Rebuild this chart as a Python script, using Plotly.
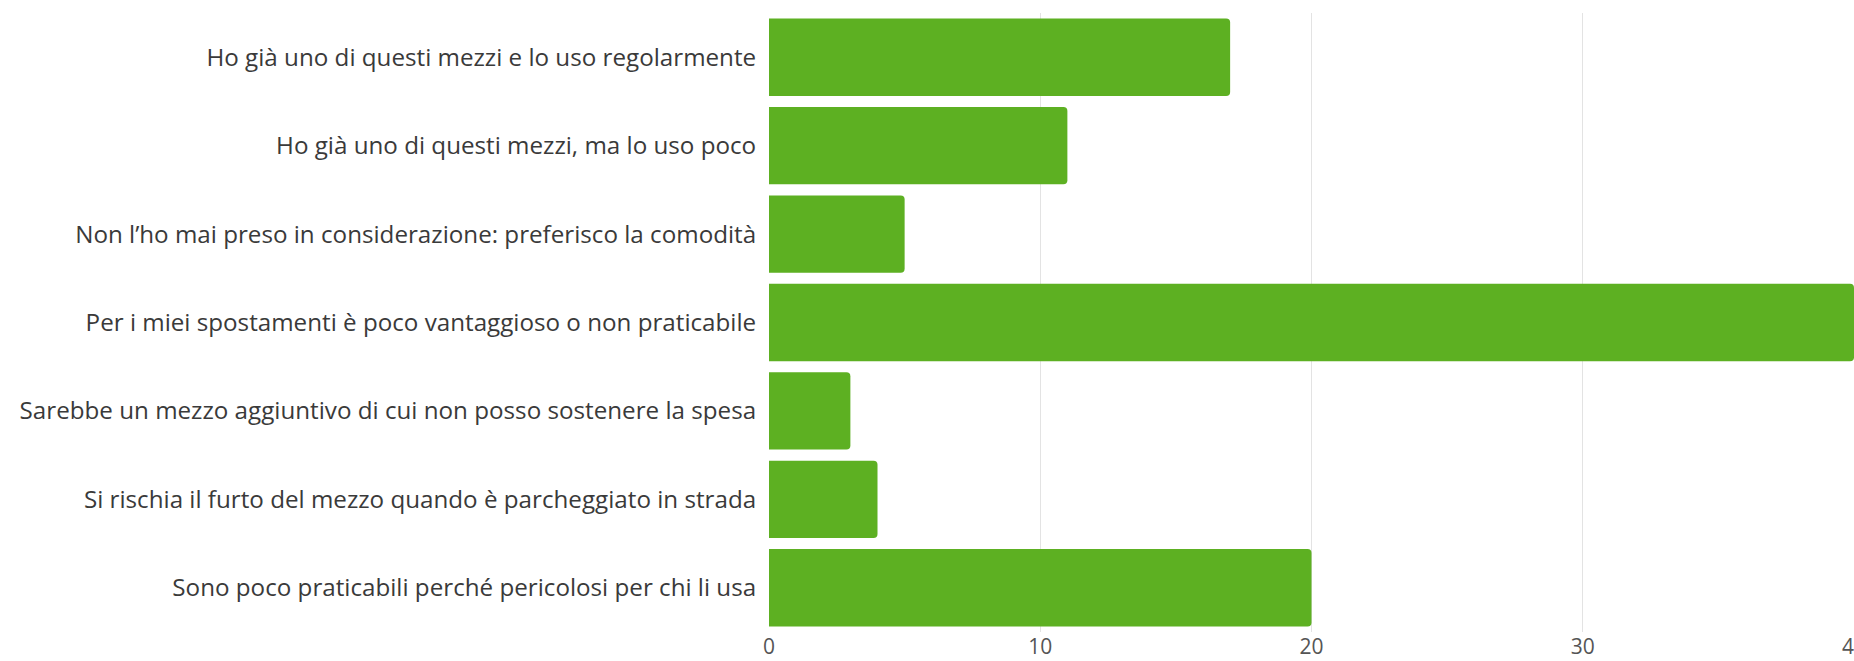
import plotly.graph_objects as go

# Survey answers (top to bottom) and respondent counts
categories = [
    "Ho già uno di questi mezzi e lo uso regolarmente",
    "Ho già uno di questi mezzi, ma lo uso poco",
    "Non l’ho mai preso in considerazione: preferisco la comodità",
    "Per i miei spostamenti è poco vantaggioso o non praticabile",
    "Sarebbe un mezzo aggiuntivo di cui non posso sostenere la spesa",
    "Si rischia il furto del mezzo quando è parcheggiato in strada",
    "Sono poco praticabili perché pericolosi per chi li usa",
]
counts = [17, 11, 5, 40, 3, 4, 20]
x_ticks = [0, 10, 20, 30, 40]

BAR_GREEN = "#5db022"
FONT = "Open Sans"

fig = go.Figure(
    go.Bar(
        x=counts,
        y=categories,
        orientation="h",
        marker=dict(color=BAR_GREEN, line=dict(width=0), cornerradius=4),
        hoverinfo="x+y",
    )
)

fig.update_layout(
    width=1854,
    height=661,
    margin=dict(l=769, r=0, t=13, b=29),
    paper_bgcolor="white",
    plot_bgcolor="white",
    bargap=0.125,
    showlegend=False,
    font=dict(family=FONT, size=24, color="#3a3a3a"),
)

fig.update_xaxes(
    range=[0, 40],
    tickvals=x_ticks,
    ticktext=[str(v) for v in x_ticks],
    showgrid=True,
    gridcolor="#e3e3e3",
    gridwidth=1,
    zeroline=False,
    showline=False,
    ticks="",
    automargin=False,
    ticklabeloverflow="allow",
    tickfont=dict(family=FONT, size=21, color="#555555"),
)

fig.update_yaxes(
    autorange="reversed",
    showgrid=False,
    zeroline=False,
    showline=False,
    ticks="outside",
    ticklen=7,
    tickcolor="rgba(0,0,0,0)",
    automargin=False,
    tickfont=dict(family=FONT, size=24.2, color="#3a3a3a"),
)

fig.write_html("out.html")
